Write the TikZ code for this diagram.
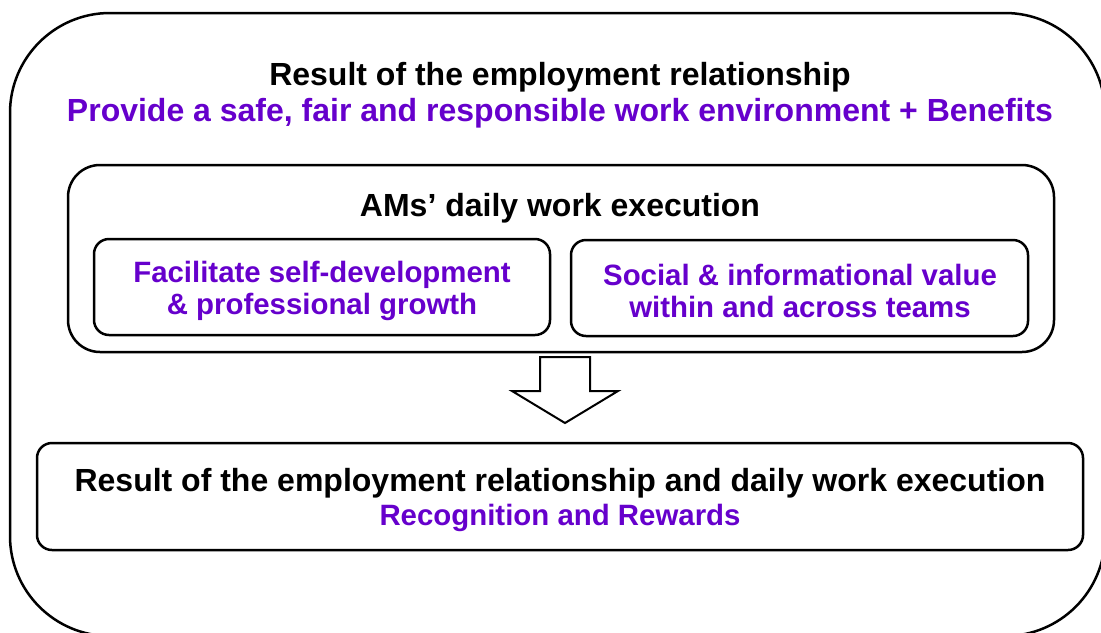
\documentclass[tikz,border=0pt]{standalone}
\usepackage{fontspec}
\setmainfont{Liberation Sans}
\usetikzlibrary{positioning}
\definecolor{amviolet}{RGB}{102,0,204}

\tikzset{
  panel/.style={draw, line width=1.25pt, rounded corners=#1, inner sep=0pt},
  head/.style={font=\fontsize{16}{19}\selectfont\bfseries},
  aim/.style={head, text=amviolet},
  item/.style={font=\fontsize{14.7}{16.2}\selectfont\bfseries, text=amviolet, align=center},
  blockarrow/.style={draw, line width=1pt, fill=white},
}

\begin{document}
\begin{tikzpicture}[x=0.5pt, y=-0.5pt]
    \useasboundingbox (0,0) rectangle (1101,632);
    \begin{scope}
        \clip (0,0) rectangle (1101,632);
        \node[panel=50pt, minimum width=547.5pt, minimum height=311.5pt] (outer) at (557.5,324.5) {};
    \end{scope}
    \node[head] (title) at (560,77) {Result of the employment relationship};
    \node[aim] (goal) at (560,113) {Provide a safe, fair and responsible work environment + Benefits};

    % daily work block
    \node[panel=16pt, minimum width=493pt, minimum height=93.5pt] (daily) at (561,258.5) {};
    \node[head] (dailytitle) at (560,208) {AMs’ daily work execution};
    \node[panel=7.5pt, minimum width=228pt, minimum height=48pt] (growbox) at (322,287) {};
    \node[item] (grow) at (322,291) {Facilitate self-development\\\& professional growth};
    \node[panel=7.5pt, minimum width=228.5pt, minimum height=48pt] (socialbox) at (799.5,288) {};
    \node[item] (social) at (800,291) {Social \& informational value\\within and across teams};

    \coordinate (arr) at (565,357);
    \draw[blockarrow] (arr) ++(-25,0) -- ++(50,0) -- ++(0,34) -- ++(28,0)
        -- (arr |- 0,423) -- ++(-53,-32) -- ++(28,0) -- cycle;

    % outcome
    \node[panel=7.5pt, minimum width=523pt, minimum height=53.5pt] (result) at (560,496.5) {};
    \node[head] (resulttitle) at (560,483) {Result of the employment relationship and daily work execution};
    \node[aim, font=\fontsize{14.7}{17}\selectfont\bfseries] (reward) at (560,518) {Recognition and Rewards};
\end{tikzpicture}
\end{document}
